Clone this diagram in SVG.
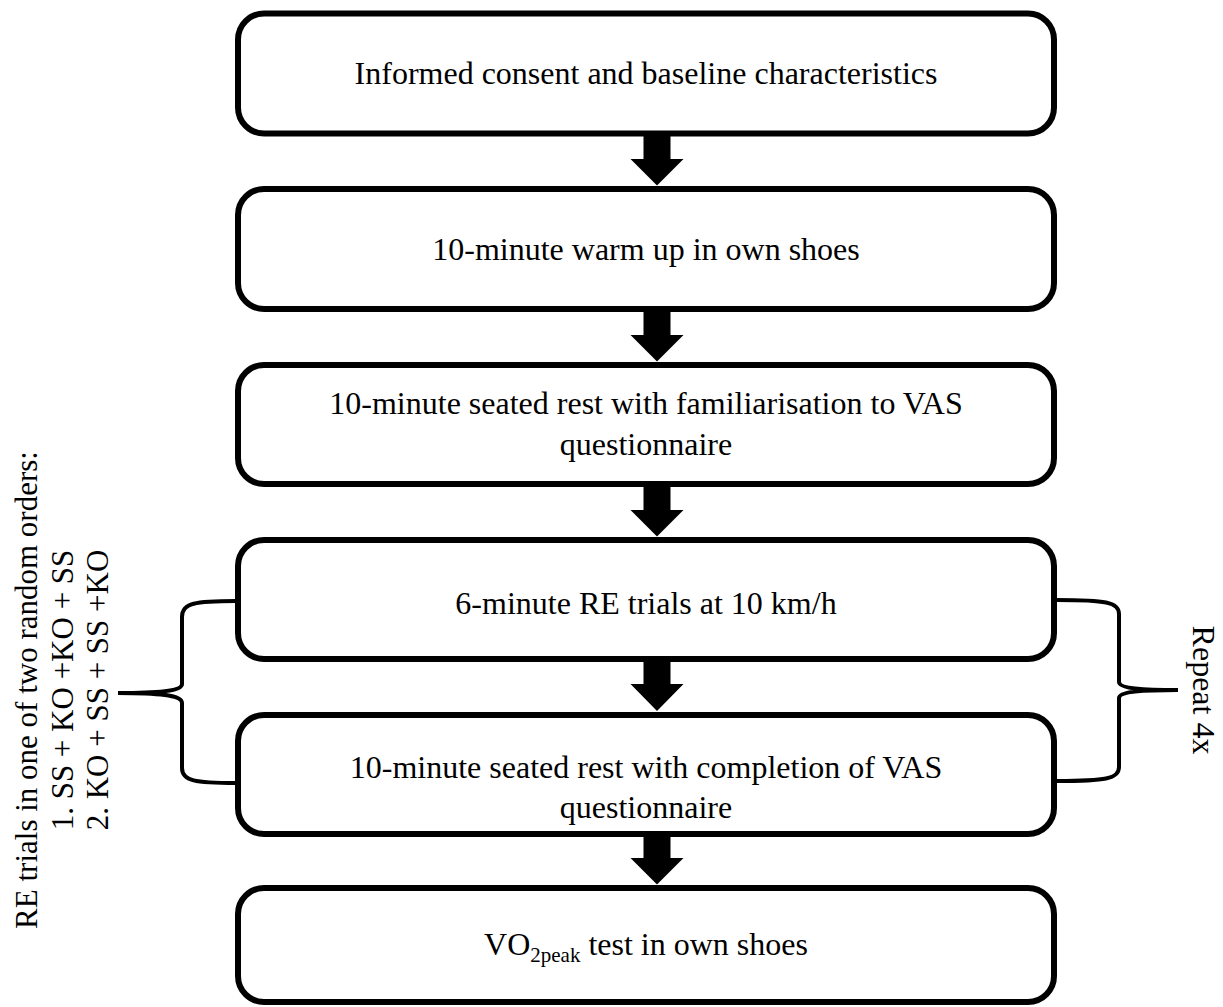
<svg xmlns="http://www.w3.org/2000/svg" width="1223" height="1007" viewBox="0 0 1223 1007">
<style>
.box{fill:#fff;stroke:#000;stroke-width:6}
.t{font-family:"Liberation Serif","Times New Roman",serif;font-size:32px;fill:#000;text-anchor:middle}
.s{font-family:"Liberation Serif","Times New Roman",serif;font-size:31px;fill:#000;text-anchor:middle}
.arr{fill:#000;stroke:none}
.brace{fill:none;stroke:#000;stroke-width:4}
</style>
<rect width="1223" height="1007" fill="#fff"/>
<g id="n1"><rect class="box" x="238" y="13.5" width="816" height="120" rx="26"/><text class="t" x="646" y="84">Informed consent and baseline characteristics</text></g>
<g id="n2"><rect class="box" x="238" y="189" width="816" height="120" rx="26"/><text class="t" x="646" y="260">10-minute warm up in own shoes</text></g>
<g id="n3"><rect class="box" x="238" y="365" width="816" height="119" rx="26"/><text class="t" x="646" y="414">10-minute seated rest with familiarisation to VAS</text><text class="t" x="646" y="455">questionnaire</text></g>
<g id="n4"><rect class="box" x="238" y="540" width="816" height="119" rx="26"/><text class="t" x="646" y="614">6-minute RE trials at 10 km/h</text></g>
<g id="n5"><rect class="box" x="238" y="715" width="816" height="119" rx="26"/><text class="t" x="646" y="778">10-minute seated rest with completion of VAS</text><text class="t" x="646" y="818">questionnaire</text></g>
<g id="n6"><rect class="box" x="238" y="888" width="816" height="114" rx="26"/><text class="t" x="646" y="955">VO<tspan font-size="21" dy="7">2peak</tspan><tspan dy="-7"> test in own shoes</tspan></text></g>
<g id="connectors">
<path class="arr" d="M643.5,136 H670.5 V159 H683.5 L657,185.5 L630.5,159 H643.5 Z"/>
<path class="arr" d="M643.5,312 H670.5 V335 H683.5 L657,361.5 L630.5,335 H643.5 Z"/>
<path class="arr" d="M643.5,487 H670.5 V510 H683.5 L657,536.5 L630.5,510 H643.5 Z"/>
<path class="arr" d="M643.5,662 H670.5 V684 H683.5 L657,711 L630.5,684 H643.5 Z"/>
<path class="arr" d="M643.5,837 H670.5 V858 H683.5 L657,884.5 L630.5,858 H643.5 Z"/>
</g>
<g id="left-brace">
<path class="brace" d="M236,601 C195,601 182,603 182,617 L182,684 C182,691 160,693 118,693 C160,693 182,695 182,703 L182,768 C182,781 195,783 236,783"/>
<text class="s" transform="translate(37,690) rotate(-90)">RE trials in one of two random orders:</text>
<text class="s" transform="translate(73,690) rotate(-90)">1. SS + KO +KO + SS</text>
<text class="s" transform="translate(108,690) rotate(-90)">2. KO + SS + SS +KO</text>
</g>
<g id="right-brace">
<path class="brace" d="M1057,600 C1105,600 1119,602 1119,614 L1119,682 C1119,688 1140,690 1178,690 C1140,690 1119,692 1119,698 L1119,767 C1119,779 1105,781 1057,781"/>
<text class="t" transform="translate(1193,690) rotate(90)">Repeat 4x</text>
</g>
</svg>
